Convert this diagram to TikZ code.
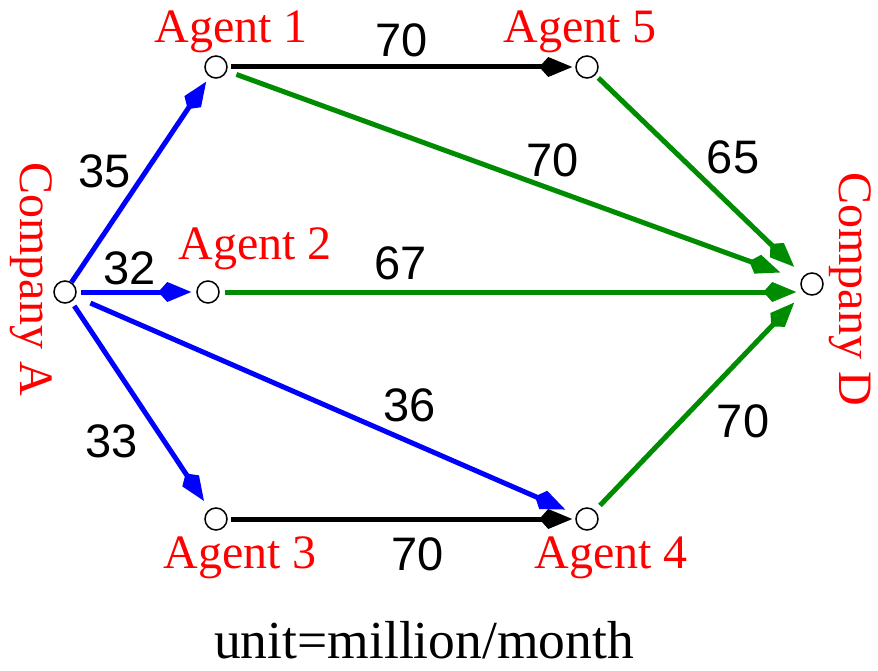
\documentclass[tikz,border=0pt]{standalone}
\usepackage{fontspec}
\setmainfont{Liberation Serif}
\newfontfamily\numfont{Liberation Sans}
\usetikzlibrary{arrows.meta}
\definecolor{myblue}{RGB}{0,0,255}
\definecolor{mygreen}{RGB}{0,140,0}
\definecolor{myred}{RGB}{255,0,0}
\begin{document}
\begin{tikzpicture}[x=1pt,y=-1pt,
  dot/.style={circle,draw=black,line width=1.5pt,minimum size=22pt,inner sep=0pt,fill=white},
  flow/.style={line width=5pt,-{Kite[length=33pt,width=20pt,inset=9pt]}},
  bl/.style={flow,draw=myblue,fill=myblue},
  gr/.style={flow,draw=mygreen,fill=mygreen},
  bk/.style={flow,draw=black,fill=black},
  agent/.style={text=myred,font=\fontsize{48}{48}\selectfont,anchor=base,inner sep=0pt},
  comp/.style={text=myred,font=\fontsize{48}{48}\selectfont,rotate=-90,inner sep=0pt},
  num/.style={font=\numfont\fontsize{47}{47}\selectfont,inner sep=0pt}]
\useasboundingbox (0,0) rectangle (878,671);
% nodes
\node[dot] (A) at (65,292) {};
\node[dot] (n1) at (216,67) {};
\node[dot] (n5) at (587,67) {};
\node[dot] (n2) at (208,292) {};
\node[dot] (D) at (812,284) {};
\node[dot] (n3) at (216,519) {};
\node[dot] (n4) at (587,519) {};
\coordinate (d2) at (n2 -| D.west);
% labels
\node[agent] (l1) at (231,43) {Agent 1};
\node[agent] (l5) at (580,43) {Agent 5};
\node[agent] (l2) at (255,259) {Agent 2};
\node[agent] (l3) at (240,568) {Agent 3};
\node[agent] (l4) at (611,568) {Agent 4};
\node[comp] (lA) at (31.5,279) {Company A};
\node[comp] (lD) at (850.5,289) {Company D};
% edges
\draw[bl,shorten <=0pt,shorten >=6pt] (A) -- (n1);
\draw[bl,shorten <=4pt,shorten >=5pt] (A) -- (n2);
\draw[bl,shorten <=5pt,shorten >=10pt] (A) -- (n3);
\draw[bl,shorten <=16pt,shorten >=12pt] (A) -- (n4);
\draw[bk,shorten <=3pt,shorten >=3pt] (n1) -- (n5);
\draw[bk,shorten <=3pt,shorten >=3pt] (n3) -- (n4);
\draw[gr,shorten <=10pt,shorten >=22pt] (n1) -- (D);
\draw[gr,shorten <=5pt,shorten >=4pt] (n2) -- (d2);
\draw[gr,shorten <=4pt,shorten >=13pt] (n5) -- (D);
\draw[gr,shorten <=7pt,shorten >=14pt] (n4) -- (D);
% numbers
\node[num] (v15) at (402,40) {70};
\node[num] (vA1) at (105,171) {35};
\node[num] (v1D) at (553,160) {70};
\node[num] (v5D) at (733,157) {65};
\node[num] (vA2) at (130,268) {32};
\node[num] (v2D) at (401,263) {67};
\node[num] (vA4) at (410,405) {36};
\node[num] (vA3) at (112,441) {33};
\node[num] (v4D) at (743,421) {70};
\node[num] (v34) at (418,554) {70};
\node[font=\fontsize{53.5}{53.5}\selectfont,anchor=base,inner sep=0pt] (unit) at (424,658) {unit=million/month};
\end{tikzpicture}
\end{document}
